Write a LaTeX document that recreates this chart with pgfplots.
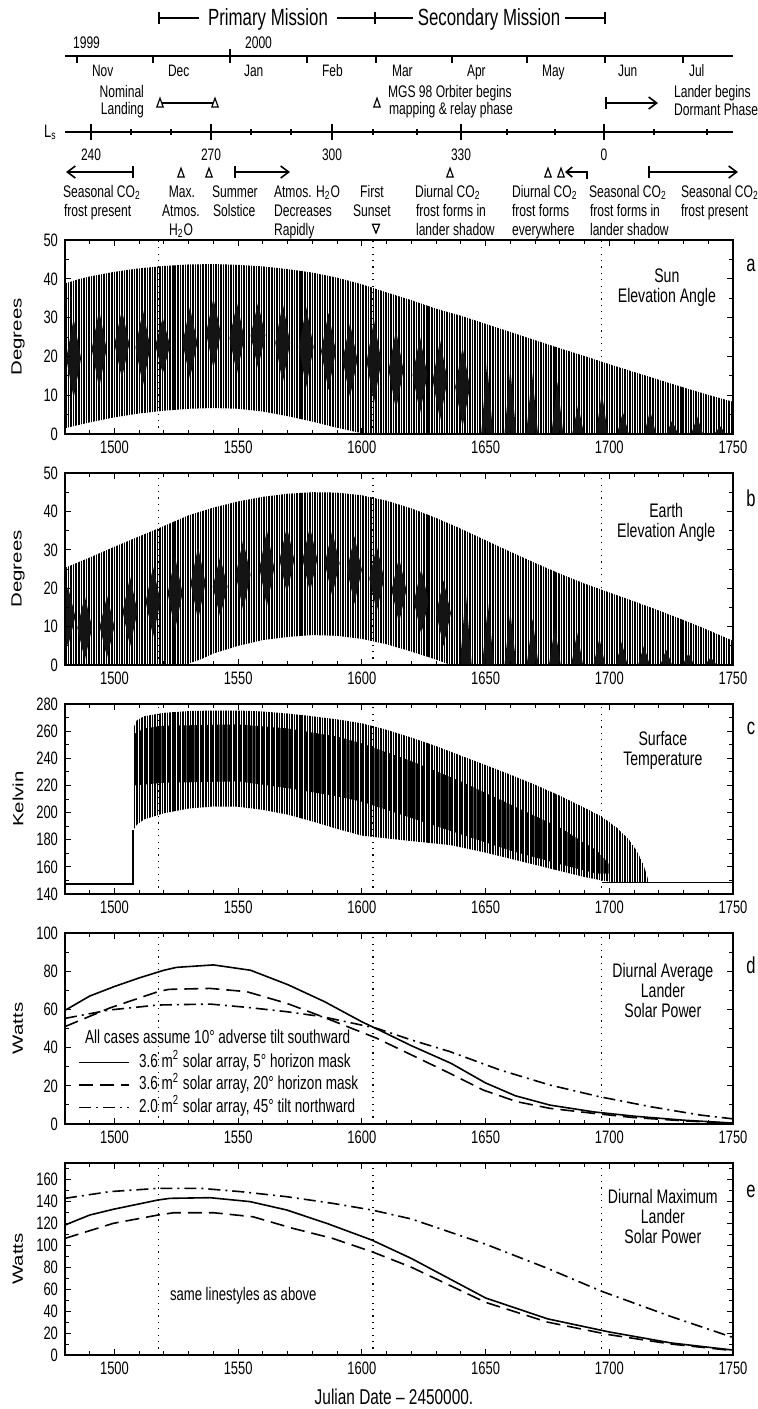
\documentclass[border=0pt]{standalone}
\usepackage{fontspec}
\setmainfont{Liberation Sans}[FakeStretch=0.72]
\newfontfamily\rotfont{Liberation Sans}[FakeStretch=1.38]
\usepackage{pgfplots}
\pgfplotsset{compat=1.18}
\usetikzlibrary{patterns.meta,arrows.meta}

\newcommand\fs[1]{\fontsize{#1}{#1}\selectfont}
\newcommand\sub[1]{\textsubscript{#1}}
% small open triangles used as event markers in the header
\newcommand\tri[2]{\draw[line width=0.6pt] (#1,#2) ++(-1.6pt,0pt) -- ++(3.2pt,0pt) -- ++(-1.6pt,4.4pt) -- cycle;}

\tikzset{
  ttl/.style={font=\fontsize{9.8}{10}\selectfont, align=center},
  pletter/.style={font=\fs{11.5}},
  ann/.style={font=\fs{8.4}},
}
\pgfplotsset{
  panel/.style={
    scale only axis, width=334pt, anchor=north west,
    xmin=1480, xmax=1750,
    xtick={1500,1550,...,1750},
    minor xtick={1480,1490,...,1750},
    tick align=inside, axis on top,
    major tick length=3pt, minor tick length=2.2pt,
    axis line style={line width=0.8pt},
    every tick/.style={black, line width=0.5pt},
    tick label style={font=\fs{9}},
    /pgf/number format/assume math mode=true,
    /pgf/number format/set thousands separator={},
    ylabel style={font=\rotfont\fontsize{7.4}{8}\selectfont, at={(axis description cs:-0.0704,0.5)}, anchor=center},
  },
  letter/.style 2 args={extra description/.code={\node[pletter] at (axis description cs:1.027,#2) {#1};}},
  hatch/.style={draw=none, pattern={Lines[angle=90,distance=1.27pt,line width=0.78pt]}},
  core/.style={draw=none, fill=black!92, unbounded coords=jump},
  band/.style={draw=none, pattern={Lines[angle=90,distance=1.27pt,line width=1.12pt]}},
  vdot/.style={line width=0.6pt, dash pattern=on 0.6pt off 2.6pt, forget plot},
  sol/.style={line width=0.8pt},
  dsh/.style={line width=0.8pt, dash pattern=on 7pt off 3.5pt},
  dsd/.style={line width=0.8pt, dash pattern=on 6pt off 2.5pt on 1pt off 2.5pt},
}

\begin{document}
\begin{tikzpicture}
\path[use as bounding box] (0,0) rectangle (379pt,-704.5pt);

% ---------------- header (coordinates in picture pixels) ----------------
\begin{axis}[at={(0pt,0pt)}, anchor=north west, scale only axis, width=379pt, height=120pt,
  xmin=0, xmax=758, ymin=0, ymax=240, y dir=reverse, hide axis, clip=false]
\draw[line width=0.8pt] (159,18) -- (199,18) (337,18) -- (413,18) (565,18) -- (605,18);
\draw[line width=0.8pt] (159,12) -- (159,24) (375,12) -- (375,24) (605,12) -- (605,24);
\node[font=\fs{11.7}, anchor=base] at (268,25) {Primary Mission};
\node[font=\fs{11.7}, anchor=base] at (489,25) {Secondary Mission};

\draw[line width=0.9pt] (65,56) -- (733,56);
\draw[line width=0.6pt] (230,49) -- (230,63);
\pgfplotsinvokeforeach{77,153,307,376,452,527,605,683}{\draw[line width=0.6pt] (#1,56) -- (#1,63);}
\node[font=\fs{8.4}, anchor=base west] at (66,48) {1999};
\node[font=\fs{8.4}, anchor=base west] at (238,48) {2000};
\node[font=\fs{8.3}, anchor=base west] at (85,76) {Nov};
\node[font=\fs{8.3}, anchor=base west] at (161,76) {Dec};
\node[font=\fs{8.3}, anchor=base west] at (237,76) {Jan};
\node[font=\fs{8.3}, anchor=base west] at (315,76) {Feb};
\node[font=\fs{8.3}, anchor=base west] at (385,76) {Mar};
\node[font=\fs{8.3}, anchor=base west] at (460,76) {Apr};
\node[font=\fs{8.3}, anchor=base west] at (535,76) {May};
\node[font=\fs{8.3}, anchor=base west] at (611,76) {Jun};
\node[font=\fs{8.3}, anchor=base west] at (682,76) {Jul};

\node[ann, anchor=base east] at (151,97) {Nominal};
\node[ann, anchor=base east] at (151,114) {Landing};
\draw[line width=0.8pt] (162,103) -- (213,103);
\tri{160}{107}\tri{215}{107}
\tri{377}{107}
\node[ann, anchor=base west] at (381,97) {MGS 98 Orbiter begins};
\node[ann, anchor=base west] at (382,114) {mapping \& relay phase};
\draw[line width=0.8pt, {Bar[width=6pt]}-{Straight Barb[length=4pt,width=6pt]}] (605,103) -- (658,103);
\node[ann, anchor=base west] at (667,97) {Lander begins};
\node[ann, anchor=base west] at (667,115) {Dormant Phase};

% Ls scale
\draw[line width=0.9pt] (65,132) -- (733,132);
\node[font=\fs{9}, anchor=base west] at (37,137) {L\sub{s}};
\pgfplotsinvokeforeach{91,211,332,461,604}{\draw[line width=0.6pt] (#1,124) -- (#1,140);}
\pgfplotsinvokeforeach{131,171,251,291,373,417,507,555,654,707}{\draw[line width=0.6pt] (#1,129) -- (#1,135);}
\node[font=\fs{8.3}, anchor=base] at (91,160) {240};
\node[font=\fs{8.3}, anchor=base] at (211,160) {270};
\node[font=\fs{8.3}, anchor=base] at (332,160) {300};
\node[font=\fs{8.3}, anchor=base] at (461,160) {330};
\node[font=\fs{8.3}, anchor=base] at (604,160) {0};

% events along Ls
\draw[line width=0.8pt, {Straight Barb[length=4pt,width=6pt]}-{Bar[width=6pt]}] (66,172) -- (134,172);
\tri{181}{177}\tri{209}{177}
\draw[line width=0.8pt, {Bar[width=6pt]}-{Straight Barb[length=4pt,width=6pt]}] (234,172) -- (290,172);
\tri{450}{177}
\tri{548}{177}\tri{561}{177}
\draw[line width=0.8pt, -{Straight Barb[length=3pt,width=5pt]}] (587,179) -- (587,172) -- (565,172);
\draw[line width=0.8pt, {Bar[width=6pt]}-{Straight Barb[length=4pt,width=6pt]}] (648,172) -- (738,172);
\draw[line width=0.6pt] (376,233) ++(-1.8pt,4.4pt) -- ++(3.6pt,0pt) -- ++(-1.8pt,-4.4pt) -- cycle;

\node[ann, anchor=base west] at (56,197) {Seasonal CO\sub{2}};
\node[ann, anchor=base west] at (57,216) {frost present};
\node[ann, anchor=base] at (182,197) {Max.};
\node[ann, anchor=base] at (181,216) {Atmos.};
\node[ann, anchor=base] at (181,235) {H\sub{2}O};
\node[ann, anchor=base west] at (205,197) {Summer};
\node[ann, anchor=base west] at (206,216) {Solstice};
\node[ann, anchor=base west] at (267,197) {Atmos. H\sub{2}O};
\node[ann, anchor=base west] at (267,216) {Decreases};
\node[ann, anchor=base west] at (267,235) {Rapidly};
\node[ann, anchor=base] at (372,197) {First};
\node[ann, anchor=base] at (372,216) {Sunset};
\node[ann, anchor=base west] at (408,197) {Diurnal CO\sub{2}};
\node[ann, anchor=base west] at (409,216) {frost forms in};
\node[ann, anchor=base west] at (409,235) {lander shadow};
\node[ann, anchor=base west] at (505,197) {Diurnal CO\sub{2}};
\node[ann, anchor=base west] at (505,216) {frost forms};
\node[ann, anchor=base west] at (505,235) {everywhere};
\node[ann, anchor=base west] at (582,197) {Seasonal CO\sub{2}};
\node[ann, anchor=base west] at (583,216) {frost forms in};
\node[ann, anchor=base west] at (583,235) {lander shadow};
\node[ann, anchor=base west] at (674,197) {Seasonal CO\sub{2}};
\node[ann, anchor=base west] at (674,216) {frost present};
\end{axis}

% ---------------- a: Sun elevation ----------------
\begin{axis}[panel, at={(32.5pt,-120pt)}, height=97pt, ymin=0, ymax=50,
  ytick={0,10,...,50}, minor ytick={5,15,...,45}, ylabel={Degrees}, letter={a}{0.87}]
\addplot[vdot] coordinates {(1517.7,0) (1517.7,50)};
\addplot[vdot] coordinates {(1604.5,0) (1604.5,50)};
\addplot[vdot] coordinates {(1696.8,0) (1696.8,50)};
% diurnal range: upper envelope, then lower envelope back
\addplot[hatch, forget plot] coordinates {
 (1480,38.8) (1485,39.8) (1490,40.6) (1500,41.8) (1510,42.7) (1520,43.3) (1530,43.7)
 (1540,43.8) (1550,43.6) (1560,43.2) (1570,42.5) (1580,41.6) (1590,40.3) (1600,38.6)
 (1610,36.5) (1620,34.5) (1630,32.3) (1640,30.5) (1650,28.4) (1660,26.3) (1670,24.2)
 (1680,22.1) (1690,20.1) (1700,18.0) (1710,16.0) (1720,14.0) (1730,12.0) (1740,10.1) (1750,8.3)
 (1750,0) (1602,0) (1600,0.2) (1590,1.6) (1580,3.2) (1570,4.6) (1560,5.8) (1550,6.5)
 (1540,6.7) (1530,6.5) (1520,6.0) (1510,5.3) (1500,4.3) (1490,3.0) (1480,1.5)};
\addplot[core, forget plot] coordinates {
 (1480.5,19.5) (1483.5,29.8) (1486.5,19.5) (1483.5,9.2) (nan,nan)
 (1490.8,21.9) (1493.8,32) (1496.8,21.9) (1493.8,11.8) (nan,nan)
 (1500,23.2) (1503,32) (1506,23.2) (1503,14.3) (nan,nan)
 (1508.5,22.3) (1511.5,32) (1514.5,22.3) (1511.5,12.5) (nan,nan)
 (1516.5,22.8) (1519.5,30) (1522.5,22.8) (1519.5,15.5) (nan,nan)
 (1527.5,23.5) (1530.5,32.7) (1533.5,23.5) (1530.5,14.3) (nan,nan)
 (1537,26) (1540,35) (1543,26) (1540,17) (nan,nan)
 (1546.5,24.7) (1549.5,33.8) (1552.5,24.7) (1549.5,15.5) (nan,nan)
 (1555,25.4) (1558,33.8) (1561,25.4) (1558,17) (nan,nan)
 (1565,23.5) (1568,33.8) (1571,23.5) (1568,13.1) (nan,nan)
 (1574.5,22.4) (1577.5,32.7) (1580.5,22.4) (1577.5,12.1) (nan,nan)
 (1583.5,21.3) (1586.5,31.2) (1589.5,21.3) (1586.5,11.3) (nan,nan)
 (1592.2,19.1) (1595.2,28.6) (1598.2,19.1) (1595.2,9.5) (nan,nan)
 (1601.9,18.7) (1604.9,29.4) (1607.9,18.7) (1604.9,8) (nan,nan)
 (1610.8,16.5) (1613.8,26.8) (1616.8,16.5) (1613.8,6.2) (nan,nan)
 (1620.5,15.2) (1623.5,25) (1626.5,15.2) (1623.5,5.4) (nan,nan)
 (1628.6,13.9) (1631.6,24.2) (1634.6,13.9) (1631.6,3.6) (nan,nan)
 (1637.7,12.1) (1640.7,22.4) (1643.7,12.1) (1640.7,1.8) (nan,nan)
 (1648.2,0) (1650.6,18.5) (1653,0) (nan,nan)
 (1657.6,0) (1660,17) (1662.4,0) (nan,nan)
 (1666.4,0) (1668.8,15.7) (1671.2,0) (nan,nan)
 (1676.6,0) (1679,13.4) (1681.4,0) (nan,nan)
 (1685,0) (1687.4,7.5) (1689.8,0) (nan,nan)
 (1694.6,0) (1697,10.8) (1699.4,0) (nan,nan)
 (1703.1,0) (1705.5,5.7) (1707.9,0) (nan,nan)
 (1714.1,0) (1716.5,6.2) (1718.9,0) (nan,nan)
 (1723,0) (1725.4,3.5) (1727.8,0) (nan,nan)
 (1733.1,0) (1735.5,4.5) (1737.9,0) (nan,nan)
 (1742.4,0) (1744.8,2) (1747.2,0)};
\node[ttl] at (axis description cs:0.901,0.753) {Sun\\Elevation Angle};
\end{axis}

% ---------------- b: Earth elevation ----------------
\begin{axis}[panel, at={(32.5pt,-236.5pt)}, height=96pt, ymin=0, ymax=50,
  ytick={0,10,...,50}, minor ytick={5,15,...,45}, ylabel={Degrees}, letter={b}{0.87}]
\addplot[vdot] coordinates {(1517.7,0) (1517.7,50)};
\addplot[vdot] coordinates {(1604.5,0) (1604.5,50)};
\addplot[vdot] coordinates {(1696.8,0) (1696.8,50)};
\addplot[hatch, forget plot] coordinates {
 (1480,25.3) (1490,28.0) (1500,30.8) (1510,33.5) (1520,36.2) (1530,39.0) (1540,41.0)
 (1550,42.6) (1560,43.8) (1570,44.6) (1580,45.0) (1590,44.9) (1600,44.2) (1610,42.8)
 (1620,40.8) (1630,38.3) (1640,35.5) (1650,32.5) (1660,29.5) (1670,26.6) (1680,23.8)
 (1690,21.2) (1697,19.6) (1710,16.6) (1720,14.2) (1730,11.7) (1740,9.1) (1750,6.3)
 (1750,0) (1636,0) (1630,1.4) (1620,3.5) (1610,5.4) (1600,6.8) (1590,7.6) (1580,7.8)
 (1570,7.3) (1560,6.5) (1550,5.0) (1540,3.0) (1535,1.5) (1528,0) (1480,0)};
\addplot[core, forget plot] coordinates {
 (1478.2,12.6) (1481.2,20.3) (1484.2,12.6) (1481.2,4.8) (nan,nan)
 (1485,9.7) (1488,18) (1491,9.7) (1488,1.3) (nan,nan)
 (1494,10) (1497,18) (1500,10) (1497,2) (nan,nan)
 (1503.3,13.9) (1506.3,23) (1509.3,13.9) (1506.3,4.8) (nan,nan)
 (1512.6,16.5) (1515.6,25.6) (1518.6,16.5) (1515.6,7.4) (nan,nan)
 (1521.5,18.7) (1524.5,28.2) (1527.5,18.7) (1524.5,9.1) (nan,nan)
 (1530.8,21.3) (1533.8,30.8) (1536.8,21.3) (1533.8,11.7) (nan,nan)
 (1539.7,20.4) (1542.7,28.2) (1545.7,20.4) (1542.7,12.6) (nan,nan)
 (1549,23.5) (1552,32.6) (1555,23.5) (1552,14.3) (nan,nan)
 (1558.6,25.2) (1561.6,35.2) (1564.6,25.2) (1561.6,15.2) (nan,nan)
 (1566.7,27.4) (1569.7,36) (1572.7,27.4) (1569.7,18.7) (nan,nan)
 (1576,27.5) (1579,36) (1582,27.5) (1579,19) (nan,nan)
 (1585,26.5) (1588,35) (1591,26.5) (1588,18) (nan,nan)
 (1594,24.8) (1597,33.5) (1600,24.8) (1597,16) (nan,nan)
 (1603,22.5) (1606,31) (1609,22.5) (1606,14) (nan,nan)
 (1612,19.5) (1615,28) (1618,19.5) (1615,11) (nan,nan)
 (1621,16.5) (1624,25) (1627,16.5) (1624,8) (nan,nan)
 (1630,13.5) (1633,22) (1636,13.5) (1633,5) (nan,nan)
 (1639.6,0) (1642,19) (1644.4,0) (nan,nan)
 (1648.6,0) (1651,16) (1653.4,0) (nan,nan)
 (1657.6,0) (1660,14) (1662.4,0) (nan,nan)
 (1666.6,0) (1669,12) (1671.4,0) (nan,nan)
 (1675.6,0) (1678,10) (1680.4,0) (nan,nan)
 (1684.6,0) (1687,8.5) (1689.4,0) (nan,nan)
 (1693.6,0) (1696,7) (1698.4,0) (nan,nan)
 (1702.6,0) (1705,6) (1707.4,0) (nan,nan)
 (1711.6,0) (1714,5) (1716.4,0) (nan,nan)
 (1720.6,0) (1723,4) (1725.4,0) (nan,nan)
 (1729.6,0) (1732,3) (1734.4,0) (nan,nan)
 (1738.6,0) (1741,2) (1743.4,0)};
\node[ttl] at (axis description cs:0.90,0.742) {Earth\\Elevation Angle};
\end{axis}

% ---------------- c: surface temperature ----------------
\begin{axis}[panel, at={(32.5pt,-352pt)}, height=95pt, ymin=140, ymax=280,
  ytick={140,160,...,280}, minor ytick={150,170,...,270}, ylabel={Kelvin}, letter={c}{0.874}]
\addplot[vdot] coordinates {(1517.7,140) (1517.7,280)};
\addplot[vdot] coordinates {(1604.5,140) (1604.5,280)};
\addplot[vdot] coordinates {(1696.8,140) (1696.8,280)};
\addplot[hatch, forget plot] coordinates {
 (1507.6,262) (1509,268) (1512,271) (1520,273.5) (1530,274.8) (1540,275.2) (1550,275.2)
 (1560,274.5) (1570,273) (1580,271) (1590,268.7) (1600,265.8) (1610,261) (1620,255.3)
 (1630,249) (1640,242) (1650,235) (1660,228) (1670,220.5) (1680,212.5) (1690,203.5)
 (1697,197) (1703,189) (1708,180) (1711,172) (1713.5,163) (1715,155) (1716,148.5)
 (1702,148.5) (1697,150) (1690,152.5) (1680,157) (1670,161.5) (1660,166) (1650,170.5)
 (1636,176) (1620,179) (1610,181) (1600,183) (1590,188) (1580,193.5) (1570,198.5)
 (1560,202) (1550,204.3) (1540,204.5) (1530,203) (1520,199.5) (1512,195) (1509,191) (1507.6,187)};
\addplot[band, forget plot] coordinates {
 (1508,258) (1512,262) (1520,264) (1550,265) (1570,262) (1590,256) (1600,251) (1620,238)
 (1640,223) (1660,206) (1680,189) (1695,172) (1700,162)
 (1700,155) (1695,155) (1680,162) (1660,172) (1640,184) (1620,196) (1600,208) (1590,212)
 (1570,218) (1550,223) (1520,222) (1508,220)};
\addplot[line width=0.7pt, forget plot] coordinates {(1480,147.5) (1507.5,147.5) (1507.5,187)};
\addplot[line width=0.7pt, forget plot] coordinates {(1697,148.3) (1750,148.3)};
\node[ttl] at (axis description cs:0.895,0.753) {Surface\\Temperature};
\end{axis}

% ---------------- d: diurnal average power ----------------
\begin{axis}[panel, at={(32.5pt,-466.5pt)}, height=95.5pt, ymin=0, ymax=100,
  ytick={0,20,...,100}, minor ytick={10,30,...,90}, ylabel={Watts}, letter={d}{0.832},
  legend style={at={(axis cs:1485.3,37.3)}, anchor=north west, draw=none, fill=none,
    font=\fs{9.4}, inner sep=0pt, row sep=1.75pt, column sep=4.5pt,
    nodes={inner sep=0pt, text height=7pt, text depth=2.5pt}},
  legend cell align=left,
  legend image code/.code={\draw[#1] (0pt,0pt) -- (25pt,0pt);}]
\addplot[vdot] coordinates {(1517.7,0) (1517.7,100)};
\addplot[vdot] coordinates {(1604.5,0) (1604.5,100)};
\addplot[vdot] coordinates {(1696.8,0) (1696.8,100)};
\addplot[sol] coordinates {
 (1480,59.5) (1490,67) (1500,72) (1510,76.5) (1520,80.5) (1525,82) (1540,83.3) (1555,80.5)
 (1570,73) (1585,64) (1600,53.5) (1607,49.2) (1620,41) (1636,31.8) (1650,21.5) (1662,14.8)
 (1676,9.9) (1694,6.3) (1710,4.1) (1730,2) (1750,0.5)};
\addplot[dsh] coordinates {
 (1480,51) (1498,60.7) (1517.6,69.3) (1522,70.5) (1538.6,71) (1553.4,69.3) (1569.6,63.2)
 (1584,56.2) (1606,44.9) (1620,36.2) (1635.6,26.5) (1649,17.8) (1662.6,11.7) (1676,8.2)
 (1693.5,5.6) (1709.6,3.4) (1729.8,1.7) (1750,0.3)};
\addplot[dsd] coordinates {
 (1480,55.3) (1498,59.7) (1517.6,62.3) (1538.6,62.8) (1553.4,61.1) (1569.6,58.8) (1584,56.2)
 (1606,50.1) (1620,44) (1635.6,37.9) (1655.8,28.3) (1676,20.4) (1696,14.3) (1716.5,9.1)
 (1736.7,4.7) (1750,2.7)};
\legend{3.6 m\textsuperscript{2} solar array{,} 5° horizon mask,
        3.6 m\textsuperscript{2} solar array{,} 20° horizon mask,
        2.0 m\textsuperscript{2} solar array{,} 45° tilt northward}
\node[font=\fs{9.4}, anchor=base west] at (axis cs:1485.3,42.4) {All cases assume 10° adverse tilt southward};
\node[ttl] at (axis description cs:0.895,0.70) {Diurnal Average\\Lander\\Solar Power};
\end{axis}

% ---------------- e: diurnal maximum power ----------------
\begin{axis}[panel, at={(32.5pt,-581.5pt)}, height=96pt, ymin=0, ymax=175,
  ytick={0,20,...,160}, minor ytick={10,30,...,170}, ylabel={Watts}, letter={e}{0.85},
  xlabel={Julian Date \textendash\ 2450000.},
  xlabel style={font=\fs{10.7}, at={(axis description cs:0.4925,0)}, anchor=center, yshift=-21pt}]
\addplot[vdot] coordinates {(1517.7,0) (1517.7,175)};
\addplot[vdot] coordinates {(1604.5,0) (1604.5,175)};
\addplot[vdot] coordinates {(1696.8,0) (1696.8,175)};
\addplot[sol] coordinates {
 (1480,118.5) (1490,127.6) (1499.5,132.8) (1517.6,141.3) (1522.4,142.8) (1538.6,143.4)
 (1554.8,139.8) (1569.6,132.2) (1585.8,120) (1604,104.8) (1620,88) (1650,52) (1675,33)
 (1700,21) (1725,11) (1750,4.5)};
\addplot[dsh] coordinates {
 (1480,106.3) (1499.5,120) (1517.6,127.6) (1524,129.7) (1540,129.7) (1556,126) (1572,115.5)
 (1588,106.4) (1604,94.2) (1620,80) (1650,48) (1675,30) (1700,18.5) (1725,10) (1750,4)};
\addplot[dsd] coordinates {
 (1480,142.8) (1498,148.9) (1517.6,151.9) (1535,151.9) (1551,148.9) (1569.6,144.3)
 (1588,138.3) (1604,132.2) (1620,124) (1650,101) (1675,79) (1697,58) (1725,35) (1750,16)};
\node[font=\fs{9.1}, anchor=base west] at (axis cs:1519.6,50.1) {same linestyles as above};
\node[ttl] at (axis description cs:0.895,0.724) {Diurnal Maximum\\Lander\\Solar Power};
\end{axis}
\end{tikzpicture}
\end{document}
